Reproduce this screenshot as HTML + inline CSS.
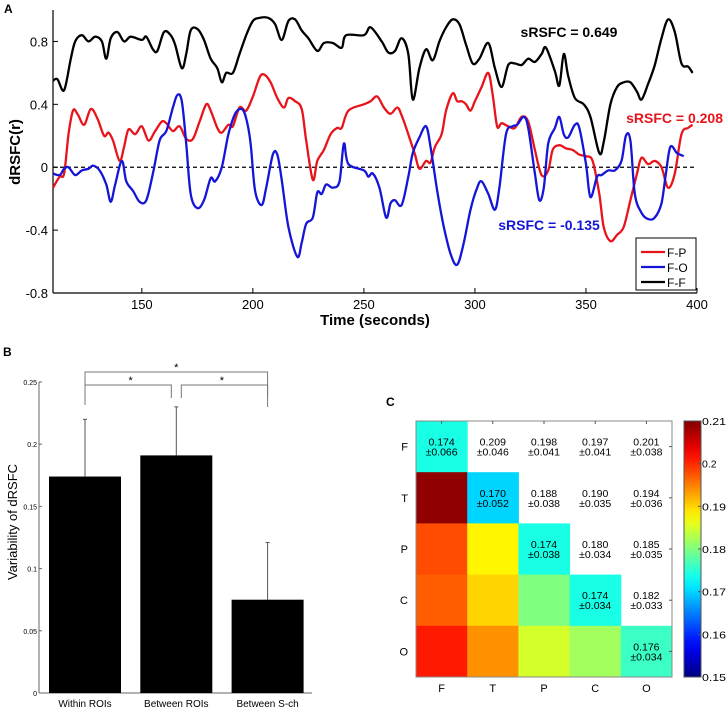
<!DOCTYPE html>
<html><head><meta charset="utf-8">
<style>
body{margin:0;background:#fff;}
svg{display:block;font-family:"Liberation Sans",Arial,sans-serif;}
</style></head>
<body>
<svg id="fig" width="728" height="711" viewBox="0 0 728 711">
  <g id="panelA"></g>
  <g id="panelB"></g>
  <g id="panelC"></g>
</svg>
<script>
// ---------- Panel A data ----------
const ffTimes=[110,112,115,118,120,123,126,129,132,134,136,139,142,145,150,152,155,157,160,163,165,168,170,172,175,178,181,184,186,188,191,194,197,200,203,207,210,213,216,219,222,225,229,232,236,240,242,250,253,258,261,264,267,270,272,275,278,281,284,287,290,293,296,299,302,306,309,312,315,318,321,324,327,330,332,336,338,340,342,345,349,352,356,358,361,364,367,370,373,375,378,381,384,387,390,393,396,398];
const ffValues=[0.55,0.56,0.49,0.69,0.80,0.84,0.80,0.83,0.80,0.69,0.82,0.86,0.80,0.83,0.81,0.83,0.75,0.74,0.86,0.84,0.78,0.63,0.72,0.87,0.88,0.81,0.69,0.63,0.54,0.60,0.60,0.72,0.84,0.93,0.95,0.95,0.91,0.81,0.93,0.94,0.87,0.82,0.74,0.79,0.79,0.76,0.84,0.84,0.89,0.80,0.73,0.74,0.82,0.72,0.43,0.63,0.75,0.68,0.80,0.89,0.94,0.91,0.78,0.66,0.69,0.79,0.63,0.51,0.65,0.66,0.65,0.69,0.67,0.72,0.76,0.61,0.52,0.72,0.58,0.44,0.40,0.32,0.09,0.16,0.40,0.51,0.54,0.54,0.48,0.43,0.53,0.65,0.82,0.94,0.86,0.66,0.64,0.60];
const fpTimes=[110,113,115,117,119,121,124,127,130,133,135,137,140,142,144,147,150,153,156,159,161,164,167,170,173,176,179,181,184,186,189,191,194,197,200,203,205,208,211,214,216,219,222,224,227,229,232,235,238,240,243,250,253,256,259,262,265,267,270,273,275,278,280,282,285,287,290,292,294,296,298,300,303,306,308,310,312,315,318,321,324,327,330,333,335,338,341,344,347,350,353,356,358,361,364,367,370,373,375,378,381,384,387,390,393,396,398];
const fpValues=[-0.13,-0.06,-0.04,0.21,0.36,0.34,0.27,0.37,0.31,0.20,0.22,0.17,0.04,0.13,0.24,0.21,0.26,0.17,0.23,0.29,0.28,0.23,0.26,0.18,0.18,0.29,0.40,0.36,0.25,0.22,0.27,0.26,0.38,0.36,0.45,0.57,0.59,0.54,0.44,0.38,0.44,0.42,0.37,0.17,-0.08,0.04,0.11,0.21,0.25,0.25,0.36,0.40,0.42,0.45,0.38,0.34,0.38,0.33,0.21,0.08,-0.01,0.04,0.03,0.13,0.21,0.36,0.47,0.42,0.42,0.40,0.36,0.42,0.51,0.60,0.46,0.26,0.28,0.26,0.25,0.32,0.29,0.11,-0.05,-0.02,0.11,0.14,0.12,0.11,0.08,0.07,0.04,-0.17,-0.38,-0.47,-0.43,-0.38,-0.21,-0.04,0.06,0.02,0.04,0.00,-0.13,-0.04,0.21,0.25,0.27];
const foTimes=[110,113,115,117,120,123,126,128,131,134,136,138,141,143,146,149,152,155,158,161,164,166,168,170,172,175,178,181,183,186,189,192,195,197,199,201,204,206,209,211,213,216,220,222,224,227,229,231,233,236,239,241,243,250,252,254,257,260,262,264,267,270,272,275,278,280,283,286,289,292,295,298,301,303,306,309,311,314,317,319,322,324,327,329,331,333,336,338,340,342,345,347,350,352,355,357,360,363,366,368,370,372,375,378,381,384,386,388,391,394];
const foValues=[-0.04,-0.05,-0.01,0.00,-0.05,-0.02,-0.01,0.01,-0.02,-0.11,-0.22,-0.11,0.04,-0.09,-0.15,-0.22,-0.21,-0.04,0.17,0.23,0.38,0.46,0.42,0.15,-0.17,-0.26,-0.21,-0.07,-0.09,0.00,0.21,0.34,0.37,0.31,0.15,-0.15,-0.24,-0.13,0.08,0.08,-0.08,-0.38,-0.57,-0.48,-0.36,-0.32,-0.16,-0.17,-0.11,-0.13,-0.09,0.15,0.02,-0.02,-0.06,-0.04,-0.13,-0.32,-0.23,-0.21,-0.24,-0.06,0.09,0.19,0.26,0.13,-0.15,-0.38,-0.55,-0.62,-0.48,-0.27,-0.13,-0.09,-0.17,-0.27,-0.13,0.21,0.26,0.27,0.32,0.25,-0.04,-0.21,-0.13,0.15,0.25,0.32,0.21,0.19,0.27,0.25,0.02,-0.19,-0.06,-0.05,-0.02,-0.02,0.04,0.20,0.17,-0.17,-0.29,-0.33,-0.32,-0.23,-0.04,0.13,0.09,0.07];
const aXTicks=[150,200,250,300,350,400];
const aYTicks=[-0.8,-0.4,0,0.4,0.8];
const aYTickLabels=["-0.8","-0.4","0","0.4","0.8"];

// ---------- Panel B data ----------
const bCategories=["Within ROIs","Between ROIs","Between S-ch"];
const bValues=[0.174,0.191,0.075];
const bErrors=[0.046,0.039,0.046];
const bYTicks=[0,0.05,0.1,0.15,0.2,0.25];
const bYTickLabels=["0","0.05","0.1","0.15","0.2","0.25"];

// ---------- Panel C data ----------
const cLabels=["F","T","P","C","O"];
const cMeans=[[0.174,0.209,0.198,0.197,0.201],[0.209,0.170,0.188,0.190,0.194],[0.198,0.188,0.174,0.180,0.185],[0.197,0.190,0.180,0.174,0.182],[0.201,0.194,0.185,0.182,0.176]];
const cSDs=[[0.066,0.046,0.041,0.041,0.038],[0.046,0.052,0.038,0.035,0.036],[0.041,0.038,0.038,0.034,0.035],[0.041,0.035,0.034,0.034,0.033],[0.038,0.036,0.035,0.033,0.034]];
const cbTicks=[0.15,0.16,0.17,0.18,0.19,0.2,0.21];
const cbTickLabels=["0.15","0.16","0.17","0.18","0.19","0.2","0.21"];

const NS="http://www.w3.org/2000/svg";
function mk(parent,tag,attrs,text){const e=document.createElementNS(NS,tag);for(const k in attrs)e.setAttribute(k,attrs[k]);if(text!==undefined)e.textContent=text;parent.appendChild(e);return e;}

// ===== Panel A =====
(function(){
const g=document.getElementById('panelA');
const L=53,R=697,T=10,B=293;
const xS=t=>L+(t-110)/(400-110)*(R-L);
const yS=v=>B-(v+0.8)/1.8*(B-T);
let e;
e=mk(g,'text',{x:4,y:13,'font-size':12,'font-weight':'bold'},'A');

e=mk(g,'line',{x1:L,y1:T,x2:L,y2:B,stroke:'#000','stroke-width':1.2});

e=mk(g,'line',{x1:L,y1:B,x2:R,y2:B,stroke:'#000','stroke-width':1.2});

aYTicks.forEach((v,i)=>{
  mk(g,'line',{x1:L,y1:yS(v),x2:L+5,y2:yS(v),stroke:'#000'});
  e=mk(g,'text',{x:L-5,y:yS(v)+5,'font-size':13,'text-anchor':'end'},aYTickLabels[i]);
  
});
aXTicks.forEach(t=>{
  mk(g,'line',{x1:xS(t),y1:B,x2:xS(t),y2:B-5,stroke:'#000'});
  e=mk(g,'text',{x:xS(t),y:B+16,'font-size':13,'text-anchor':'middle'},String(t));
  
});
e=mk(g,'text',{x:375,y:325,'font-size':15,'font-weight':'bold','text-anchor':'middle'},'Time (seconds)');

e=mk(g,'text',{x:0,y:0,'font-size':15,'font-weight':'bold','text-anchor':'middle',transform:'translate(20,152) rotate(-90)'},'dRSFC(r)');

e=mk(g,'line',{x1:L,y1:yS(0),x2:R,y2:yS(0),stroke:'#000','stroke-width':1.2,'stroke-dasharray':'4,3'});

function path(ts,vs){
  const p=ts.map((t,i)=>[xS(t),yS(vs[i])]);
  let d='M'+p[0][0].toFixed(1)+','+p[0][1].toFixed(1);
  for(let i=0;i<p.length-1;i++){
    const p0=p[Math.max(0,i-1)],p1=p[i],p2=p[i+1],p3=p[Math.min(p.length-1,i+2)];
    const c1=[p1[0]+(p2[0]-p0[0])/6,p1[1]+(p2[1]-p0[1])/6];
    const c2=[p2[0]-(p3[0]-p1[0])/6,p2[1]-(p3[1]-p1[1])/6];
    d+=' C'+c1.map(n=>n.toFixed(1))+' '+c2.map(n=>n.toFixed(1))+' '+p2.map(n=>n.toFixed(1));
  }
  return d;
}
e=mk(g,'path',{d:path(ffTimes,ffValues),fill:'none',stroke:'#000','stroke-width':2.3});

e=mk(g,'path',{d:path(fpTimes,fpValues),fill:'none',stroke:'#e8141b','stroke-width':2.3});

e=mk(g,'path',{d:path(foTimes,foValues),fill:'none',stroke:'#1515d8','stroke-width':2.3});

e=mk(g,'text',{x:569,y:37,'font-size':14,'font-weight':'bold','text-anchor':'middle',fill:'#000'},'sRSFC = 0.649');

e=mk(g,'text',{x:723,y:123,'font-size':14,'font-weight':'bold','text-anchor':'end',fill:'#e8141b'},'sRSFC = 0.208');

e=mk(g,'text',{x:549,y:230,'font-size':14,'font-weight':'bold','text-anchor':'middle',fill:'#1515d8'},'sRSFC = -0.135');

const lg=mk(g,'g',{});

mk(lg,'rect',{x:636,y:238,width:60,height:52,fill:'#fff',stroke:'#000','stroke-width':1});
[['F-P','#e8141b'],['F-O','#1515d8'],['F-F','#000']].forEach((s,i)=>{
  const y=252+i*15;
  const en=mk(lg,'g',{});
  
  mk(en,'line',{x1:641,y1:y,x2:665,y2:y,stroke:s[1],'stroke-width':2.2});
  mk(en,'text',{x:667,y:y+5,'font-size':12},s[0]);
});
})();

// ===== Panel B =====
(function(){
const g=document.getElementById('panelB');
const L=39,R=312,B=693,T=382;
const yS=v=>B-v/0.25*(B-T);
const slotW=(R-L)/3;
let e;
e=mk(g,'text',{x:3,y:356,'font-size':12,'font-weight':'bold'},'B');

e=mk(g,'line',{x1:L,y1:T,x2:L,y2:B,stroke:'#666'});

e=mk(g,'line',{x1:L,y1:B,x2:R,y2:B,stroke:'#666'});

bYTicks.forEach((v,i)=>{
  mk(g,'line',{x1:L,y1:yS(v),x2:L+3,y2:yS(v),stroke:'#666'});
  e=mk(g,'text',{x:L-2,y:yS(v)+3,'font-size':7,'text-anchor':'end'},bYTickLabels[i]);
  
});
e=mk(g,'text',{x:0,y:0,'font-size':13,'text-anchor':'middle',transform:'translate(17,522) rotate(-90)'},'Variability of dRSFC');

const cx=[];
bCategories.forEach((c,i)=>{
  const x0=L+10+i*(slotW+0.3);const w=72;const xc=x0+w/2;cx.push(xc);
  e=mk(g,'rect',{x:x0,y:yS(bValues[i]),width:w,height:B-yS(bValues[i]),fill:'#000'});
  
  const top=yS(bValues[i]+bErrors[i]);
  e=mk(g,'line',{x1:xc,y1:yS(bValues[i]),x2:xc,y2:top,stroke:'#555','stroke-width':1});
  
  mk(g,'line',{x1:xc-2,y1:top,x2:xc+2,y2:top,stroke:'#555'});
  e=mk(g,'text',{x:xc,y:707,'font-size':10,'text-anchor':'middle'},c);
  
});
const br=mk(g,'g',{fill:'none',stroke:'#777','stroke-width':1});

mk(br,'path',{d:`M${cx[0]},405 V372 H${cx[2]} V407`});
mk(br,'path',{d:`M${cx[0]},397 V385 H${cx[1]-5} V398`});
mk(br,'path',{d:`M${cx[1]+5},398 V385 H${cx[2]} V397`});
[[ (cx[0]+cx[2])/2,372],[(cx[0]+cx[1])/2,385],[(cx[1]+cx[2])/2,385]].forEach(p=>{
  e=mk(g,'text',{x:p[0],y:p[1]-1,'font-size':11,'text-anchor':'middle'},'*');
  
});
})();

// ===== Panel C =====
(function(){
const g=document.getElementById('panelC');
const L=416,T=421,cell=51.2;
const vmin=0.15,vmax=0.21;
function jet(v){const t=Math.max(0,Math.min(1,(v-vmin)/(vmax-vmin)));
  const c=x=>Math.round(255*Math.max(0,Math.min(1,x)));
  return `rgb(${c(1.5-Math.abs(4*t-3))},${c(1.5-Math.abs(4*t-2))},${c(1.5-Math.abs(4*t-1))})`;}
let e;
e=mk(g,'text',{x:386,y:406,'font-size':12,'font-weight':'bold'},'C');

for(let r=0;r<5;r++)for(let c=0;c<5;c++){
  const x=L+c*cell,y=T+r*cell;
  if(c<=r){
    e=mk(g,'rect',{x:x,y:y,width:cell+0.5,height:cell+0.5,fill:jet(cMeans[r][c])});
    
  }
  if(c>=r){
    e=mk(g,'text',{x:x+cell/2,y:y+cell/2-1,'font-size':10.5,'text-anchor':'middle'},cMeans[r][c].toFixed(3));
    
    e=mk(g,'text',{x:x+cell/2,y:y+cell/2+9,'font-size':10.5,'text-anchor':'middle'},'±'+cSDs[r][c].toFixed(3));
    
  }
}
e=mk(g,'rect',{x:L,y:T,width:5*cell,height:5*cell,fill:'none',stroke:'#888'});

cLabels.forEach((l,i)=>{
  e=mk(g,'text',{x:L+i*cell+cell/2,y:T+5*cell+15,'font-size':11,'text-anchor':'middle'},l);
  
  e=mk(g,'text',{x:L-8,y:T+i*cell+cell/2+4,'font-size':11,'text-anchor':'end'},l);
  
  mk(g,'line',{x1:L+i*cell+cell/2,y1:T,x2:L+i*cell+cell/2,y2:T+3,stroke:'#555'});
  mk(g,'line',{x1:L+5*cell,y1:T+i*cell+cell/2,x2:L+5*cell-3,y2:T+i*cell+cell/2,stroke:'#555'});
});
// colorbar
const cbX=684,cbW=17,cbT=421,cbB=677;
const defs=mk(g,'defs',{});
const grad=mk(defs,'linearGradient',{id:'jetg',x1:0,y1:1,x2:0,y2:0});
for(let i=0;i<=20;i++){mk(grad,'stop',{offset:(i/20),'stop-color':jet(vmin+(vmax-vmin)*i/20)});}
e=mk(g,'rect',{x:cbX,y:cbT,width:cbW,height:cbB-cbT,fill:'url(#jetg)',stroke:'#555'});

cbTicks.forEach((v,i)=>{
  const y=cbB-(v-vmin)/(vmax-vmin)*(cbB-cbT);
  mk(g,'line',{x1:cbX+cbW-3,y1:y,x2:cbX+cbW,y2:y,stroke:'#555'});
  const lab=cbTickLabels[i];
  const attrs={x:cbX+cbW+1,y:y+4,'font-size':10.5};
  if(lab.length===4){attrs.textLength=24;attrs.lengthAdjust='spacingAndGlyphs';}
  e=mk(g,'text',attrs,lab);
  
});
})();
</script>
</body></html>
